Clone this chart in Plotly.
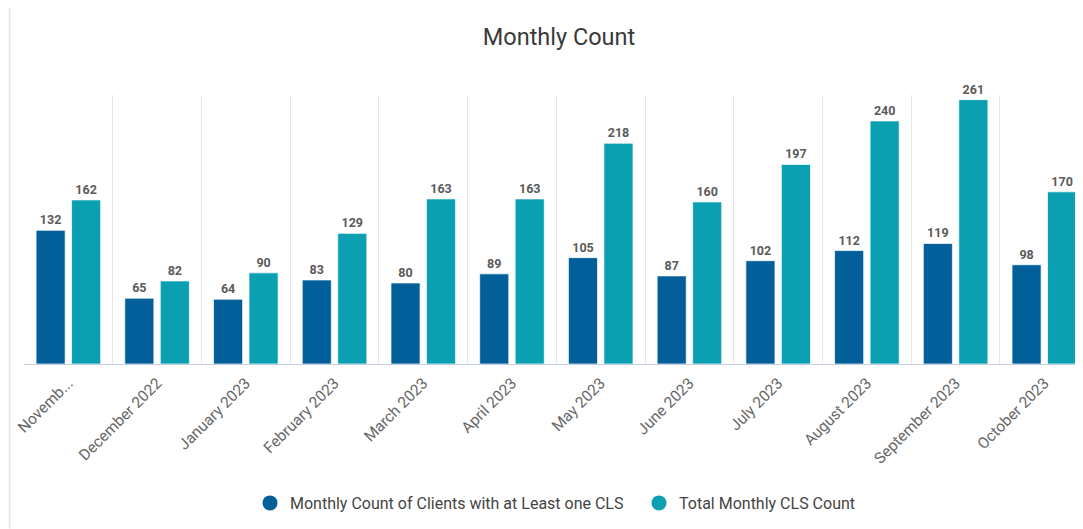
import plotly.graph_objects as go

months = ["November 2022", "December 2022", "January 2023", "February 2023", "March 2023",
          "April 2023", "May 2023", "June 2023", "July 2023", "August 2023",
          "September 2023", "October 2023"]
tick_labels = ["Novemb...", "December 2022", "January 2023", "February 2023", "March 2023",
               "April 2023", "May 2023", "June 2023", "July 2023", "August 2023",
               "September 2023", "October 2023"]
clients = [132, 65, 64, 83, 80, 89, 105, 87, 102, 112, 119, 98]
total_cls = [162, 82, 90, 129, 163, 163, 218, 160, 197, 240, 261, 170]

name_a = "Monthly Count of Clients with at Least one CLS"
name_b = "Total Monthly CLS Count"
col_a = "#035f99"
col_b = "#0aa0b1"

OFF = 8  # page body margin
W, H = 1083 - OFF, 529 - OFF
ml, mt, mb = 24.3 - OFF, 95 - OFF, 164.7
plot_w = W - ml
plot_h = H - mt - mb
cat_w = 88.7

fig = go.Figure()
label_font = dict(family="Roboto", size=12.5, color="#5a5a5a", weight="bold")
for name, vals, col in [(name_a, clients, col_a), (name_b, total_cls, col_b)]:
    fig.add_trace(go.Bar(
        x=months, y=vals, name=name, showlegend=False,
        marker=dict(color=col, line=dict(color="rgba(255,255,255,0.7)", width=1)),
        text=vals, textposition="outside", textfont=label_font,
        cliponaxis=False, hoverinfo="x+y+name"))
for name, col, lg in [(name_a, col_a, "legend"), (name_b, col_b, "legend2")]:
    fig.add_trace(go.Scatter(x=[None], y=[None], mode="markers", name=name, legend=lg,
                             marker=dict(color=col, size=15, symbol="circle")))

x_end = -0.5 + plot_w / cat_w
y_top = 265.6

def px_x(p):
    return (p - OFF - ml) / plot_w

def px_y(p):
    return (H - mb - (p - OFF)) / plot_h

leg_font = dict(family="Roboto", size=16, color="#444444")
fig.update_layout(
    width=W, height=H,
    margin=dict(l=ml, r=0, t=mt, b=mb, pad=0),
    paper_bgcolor="white", plot_bgcolor="white",
    font=dict(family="Roboto", color="#555555"),
    title=dict(text="Monthly Count", x=(559 - OFF) / W, xref="container", xanchor="center",
               y=1 - (37 - OFF) / H, yref="container", yanchor="middle",
               font=dict(family="Roboto", size=23.5, color="#3a3a3a")),
    barmode="group", bargap=0.2, bargroupgap=0.18,
    xaxis=dict(type="category", range=[-0.5, x_end], tickmode="array",
               tickvals=months, ticktext=tick_labels, tickangle=-45,
               tickfont=dict(family="Roboto", size=15.5, color="#666666"),
               ticklabelstandoff=3,
               showgrid=True, gridcolor="#e6e6e6", gridwidth=1, tickson="boundaries",
               ticks="", showline=True, linecolor="#c5cfe3", linewidth=1, fixedrange=True),
    yaxis=dict(range=[0, y_top], showgrid=False, zeroline=False, showticklabels=False,
               showline=False, ticks=""),
    legend=dict(orientation="h", xref="container", x=(270 - 20 - OFF) / W, xanchor="left",
                yref="container", y=1 - (503 - OFF) / H, yanchor="middle",
                font=leg_font, itemwidth=30, tracegroupgap=0),
    legend2=dict(orientation="h", xref="container", x=(659 - 20 - OFF) / W, xanchor="left",
                 yref="container", y=1 - (503 - OFF) / H, yanchor="middle",
                 font=leg_font, itemwidth=30, tracegroupgap=0),
    shapes=[
        dict(type="line", xref="paper", yref="paper", x0=px_x(10), x1=px_x(10),
             y0=px_y(6), y1=px_y(529), line=dict(color="#e8e8e8", width=2), layer="below"),
        dict(type="line", xref="paper", yref="paper", x0=px_x(10), x1=px_x(1083),
             y0=px_y(6), y1=px_y(6), line=dict(color="#f0f0f0", width=1), layer="below"),
    ],
)

fig.write_html("out.html")
